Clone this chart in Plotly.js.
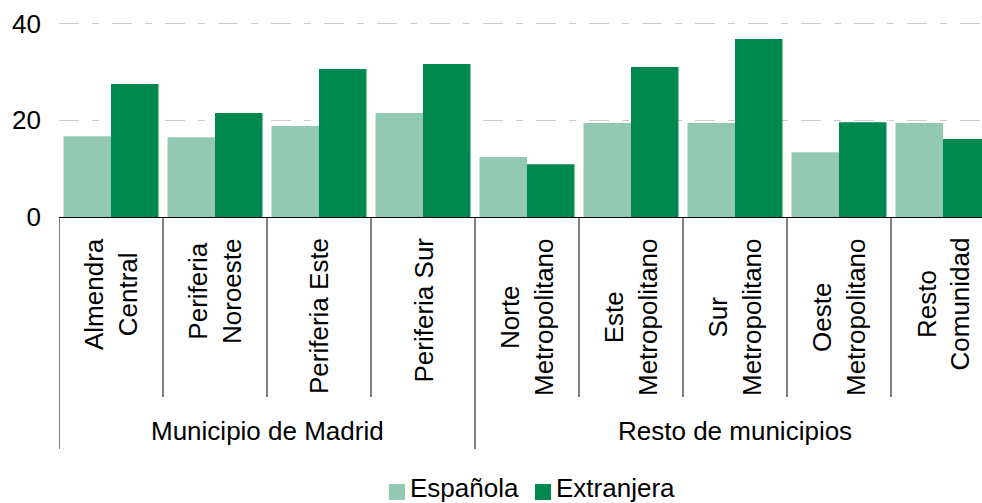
<!DOCTYPE html>
<html>
<head>
<meta charset="utf-8">
<script src="https://cdn.plot.ly/plotly-3.0.1.min.js"></script>
<style>html,body{margin:0;padding:0;background:#fff;}#chart{width:982px;height:503px;}</style>
</head>
<body>
<div id="chart"></div>
<script>
// ---- data ----
const categories = ['Almendra Central','Periferia Noroeste','Periferia Este','Periferia Sur','Norte Metropolitano','Este Metropolitano','Sur Metropolitano','Oeste Metropolitano','Resto Comunidad'];
const categoryLabels = ['Almendra<br>Central','Periferia<br>Noroeste','Periferia Este','Periferia Sur','Norte<br>Metropolitano','Este<br>Metropolitano','Sur<br>Metropolitano','Oeste<br>Metropolitano','Resto<br>Comunidad'];
const groupNames = ['Municipio de Madrid','Resto de municipios'];
const groupFirst = [0, 4];
const groupLast = [3, 8];
const seriesNames = ['Española','Extranjera'];
const espanola = [16.7, 16.5, 18.8, 21.5, 12.4, 19.4, 19.4, 13.4, 19.4];
const extranjera = [27.5, 21.5, 30.6, 31.6, 10.9, 31.0, 36.8, 19.6, 16.1];
const yTicks = [0, 20, 40];

// ---- styles / layout ----
const colors = ['#93c9b2', '#00884e'];
const FONT = 'Arial, "Liberation Sans", sans-serif';
const W = 982, H = 503;
const M = {l: 59, r: 0, t: 21, b: 286};
const plotW = W - M.l - M.r, plotH = H - M.t - M.b;
const catPx = 104;
const px2py = py => ((H - M.b) - py) / plotH;   // pixel y -> paper y
const px2px = px => (px - M.l) / plotW;          // pixel x -> paper x

const traces = [espanola, extranjera].map((vals, k) => ({
  type: 'bar', name: seriesNames[k], x: categories, y: vals,
  marker: {color: colors[k], line: {width: 0}},
  hoverinfo: 'x+y+name', showlegend: false
}));

const shapes = [];
const annotations = [];
for (let i = 1; i < categories.length; i++) {
  const outer = groupFirst.includes(i);
  shapes.push({type: 'line', xref: 'x', yref: 'paper', x0: i - 0.5, x1: i - 0.5,
    y0: 0, y1: px2py(outer ? 449 : 397), line: {color: '#000', width: 1}});
}
shapes.push({type: 'line', xref: 'x', yref: 'paper', x0: -0.5, x1: -0.5, y0: 0, y1: px2py(449), line: {color: '#000', width: 1}});

categoryLabels.forEach((lab, i) => {
  annotations.push({xref: 'x', yref: 'paper', x: i, y: px2py(238), text: lab,
    textangle: -90, xanchor: 'center', yanchor: 'top', align: 'center', showarrow: false,
    borderpad: 0, borderwidth: 0, font: {family: FONT, size: 26, color: '#000'}});
});
groupNames.forEach((g, k) => {
  annotations.push({xref: 'x', yref: 'paper', x: (groupFirst[k] + groupLast[k]) / 2, y: px2py(431),
    text: g, xanchor: 'center', yanchor: 'middle', showarrow: false, borderpad: 0, borderwidth: 0,
    font: {family: FONT, size: 26, color: '#000'}});
});
// legend (manual)
const legX = [389, 535];
seriesNames.forEach((n, k) => {
  shapes.push({type: 'rect', xref: 'paper', yref: 'paper', x0: px2px(legX[k]), x1: px2px(legX[k] + 16),
    y0: px2py(500), y1: px2py(484), fillcolor: colors[k], line: {width: 0}});
  annotations.push({xref: 'paper', yref: 'paper', x: px2px(legX[k] + 21), y: px2py(503), text: n,
    xanchor: 'left', yanchor: 'bottom', showarrow: false, borderpad: 0, borderwidth: 0,
    font: {family: FONT, size: 26, color: '#000'}});
});

const layout = {
  width: W, height: H, margin: M, paper_bgcolor: '#fff', plot_bgcolor: '#fff',
  barmode: 'group', bargap: 0.087, bargroupgap: 0,
  font: {family: FONT, size: 26, color: '#000'},
  xaxis: {type: 'category', range: [-0.5, -0.5 + plotW / catPx], showticklabels: false, ticks: '',
    showgrid: false, zeroline: false, showline: true, linecolor: '#000', linewidth: 1, fixedrange: true},
  yaxis: {range: [0, 40.5], tickvals: yTicks, ticktext: yTicks.map(String), ticks: '', showline: false,
    zeroline: false, showgrid: true, gridcolor: '#cccccc', gridwidth: 1, griddash: '20px,13px,7px,13px',
    tickfont: {family: FONT, size: 26, color: '#000'}, ticklabelstandoff: 17, fixedrange: true},
  shapes: shapes, annotations: annotations, showlegend: false
};
Plotly.newPlot('chart', traces, layout, {displayModeBar: false, staticPlot: true});
</script>
</body>
</html>
